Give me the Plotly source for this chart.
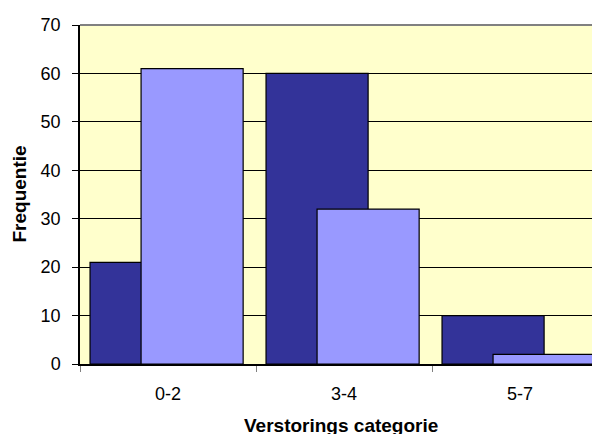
import plotly.graph_objects as go

categories = ["0-2", "3-4", "5-7"]
series_dark = [21, 60, 10]
series_light = [61, 32, 2]
y_ticks = [0, 10, 20, 30, 40, 50, 60, 70]

FONT = "Liberation Sans, Arial, sans-serif"

fig = go.Figure()
fig.add_trace(go.Bar(
    x=categories, y=series_dark, width=0.58, offset=-0.443,
    marker=dict(color="#333399", line=dict(color="black", width=1.2)),
    showlegend=False,
))
fig.add_trace(go.Bar(
    x=categories, y=series_light, width=0.58, offset=-0.153,
    marker=dict(color="#9999FF", line=dict(color="black", width=1.2)),
    showlegend=False,
))

fig.add_shape(type="line", xref="paper", yref="paper", x0=0, x1=1, y0=1, y1=1,
              line=dict(color="#808080", width=2), layer="above")

fig.add_annotation(text="<b>Frequentie</b>", xref="paper", yref="paper",
                   x=-0.1155, y=0.5, xanchor="center", yanchor="middle",
                   textangle=-90, showarrow=False, font=dict(size=19))
fig.add_annotation(text="<b>Verstorings categorie</b>", xref="paper", yref="paper",
                   x=0.494, y=-0.1445, xanchor="center", yanchor="top",
                   showarrow=False, font=dict(size=19))

fig.update_layout(
    width=600, height=434,
    margin=dict(l=72, r=0, t=17, b=78),
    paper_bgcolor="white",
    plot_bgcolor="#FFFFCC",
    barmode="overlay",
    font=dict(family=FONT, size=18, color="black"),
    xaxis=dict(
        type="category",
        range=[-0.5, 2.5],
        automargin=False,
        tickson="boundaries",
        ticks="outside", ticklen=6, tickcolor="#808080", tickwidth=1,
        showline=True, linecolor="black", linewidth=1.5,
        showgrid=False,
        tickfont=dict(size=18),
        ticklabelstandoff=13,
    ),
    yaxis=dict(
        range=[0, 70],
        automargin=False,
        tickvals=y_ticks,
        ticks="outside", ticklen=6, tickcolor="black", tickwidth=1,
        showline=True, linecolor="black", linewidth=1.5,
        showgrid=True, gridcolor="black", gridwidth=1,
        zeroline=False,
        tickfont=dict(size=18),
        ticklabelstandoff=8,
    ),
)

fig.write_html("out.html")
